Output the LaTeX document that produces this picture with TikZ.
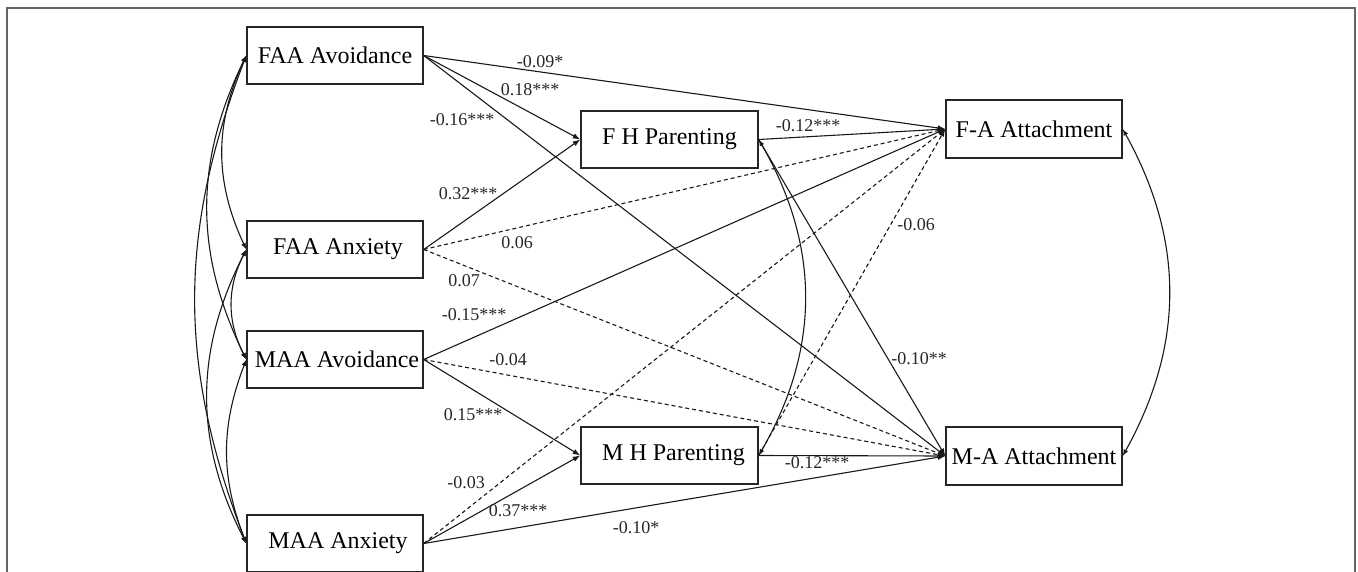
\documentclass[tikz,border=0pt]{standalone}
\usepackage{fontspec}
\setmainfont{Liberation Serif}
\usetikzlibrary{arrows.meta}
\begin{document}
\begin{tikzpicture}[x=1pt,y=-1pt,
  box/.style={draw=black!85,line width=1.4pt,minimum width=176pt,minimum height=57pt,inner sep=0pt,font=\fontsize{24}{27}\selectfont},
  lab/.style={font=\fontsize{18}{20}\selectfont,text=black!85,inner sep=0pt},
  path/.style={draw=black!90,line width=1.1pt,-{Latex[length=7.5pt,width=5.5pt]}},
  dpath/.style={path,dash pattern=on 4pt off 3pt},
  cov/.style={draw=black!90,line width=1.1pt,{Latex[length=6.5pt,width=5pt]}-{Latex[length=6.5pt,width=5pt]}}]
\useasboundingbox (0,0) rectangle (1358,571);
\draw[black!60,line width=2pt] (7,580) -- (7,8) -- (1355,8) -- (1355,580);
% nodes
\node[box] (faav) at (335,55.5) {FAA Avoidance};
\node[box] (faax) at (335,249.5) {\hspace{6pt}FAA Anxiety};
\node[box] (maav) at (335,359.5) {\hspace{4pt}MAA Avoidance};
\node[box] (maax) at (335,543.5) {\hspace{6pt}MAA Anxiety};
\node[box,minimum width=177pt] (fh) at (669.5,139.5) {F H Parenting};
\node[box,minimum width=177pt] (mh) at (669.5,455.5) {\hspace{8pt}M H Parenting};
\node[box,minimum height=58pt] (fa) at (1034,129) {F-A Attachment};
\node[box,minimum height=58pt] (ma) at (1034,456) {M-A Attachment};
% paths
\draw[path] (faav.east) -- (fa.west);
\draw[path] (faav.east) -- (fh.west);
\draw[path] (faav.east) -- (ma.west);
\draw[path] (faax.east) -- (fh.west);
\draw[dpath] (faax.east) -- (fa.west);
\draw[dpath] (faax.east) -- (ma.west);
\draw[path] (maav.east) -- (fa.west);
\draw[dpath] (maav.east) -- (ma.west);
\draw[path] (maav.east) -- (mh.west);
\draw[dpath] (maax.east) -- (fa.west);
\draw[path] (maax.east) -- (mh.west);
\draw[path] (maax.east) -- (ma.west);
\draw[path] (fh.east) -- (fa.west);
\draw[path] (fh.east) -- (ma.west);
\draw[dpath] (mh.east) -- (fa.west);
\draw[path] (mh.east) -- (ma.west);
% covariances
\draw[cov] (faav.west) to[bend right=25] (faax.west);
\draw[cov] (faav.west) to[bend right=26] (maav.west);
\draw[cov] (faav.west) to[bend right=21] (maax.west);
\draw[cov] (faax.west) to[bend right=27] (maav.west);
\draw[cov] (faax.west) to[bend right=27] (maax.west);
\draw[cov] (maav.west) to[bend right=21] (maax.west);
\draw[cov] (fh.east) to[out=-60,in=60] (mh.east);
\draw[cov] (fa.east) to[bend left=29] (ma.east);
% labels
\node[lab] (l1) at (540,62) {-0.09*};
\node[lab] (l2) at (530,90) {0.18***};
\node[lab] (l3) at (462,120) {-0.16***};
\node[lab] (l4) at (808,126) {-0.12***};
\node[lab] (l5) at (468,194) {0.32***};
\node[lab] (l6) at (517,243) {0.06};
\node[lab] (l7) at (464,281) {0.07};
\node[lab] (l8) at (916,225) {-0.06};
\node[lab] (l9) at (474,315) {-0.15***};
\node[lab] (l10) at (508,360) {-0.04};
\node[lab] (l11) at (473,415) {0.15***};
\node[lab] (l12) at (466,483) {-0.03};
\node[lab] (l13) at (518,511) {0.37***};
\node[lab] (l14) at (636,528) {-0.10*};
\node[lab] (l15) at (817,463) {-0.12***};
\node[lab] (l16) at (919,359) {-0.10**};
\end{tikzpicture}
\end{document}
